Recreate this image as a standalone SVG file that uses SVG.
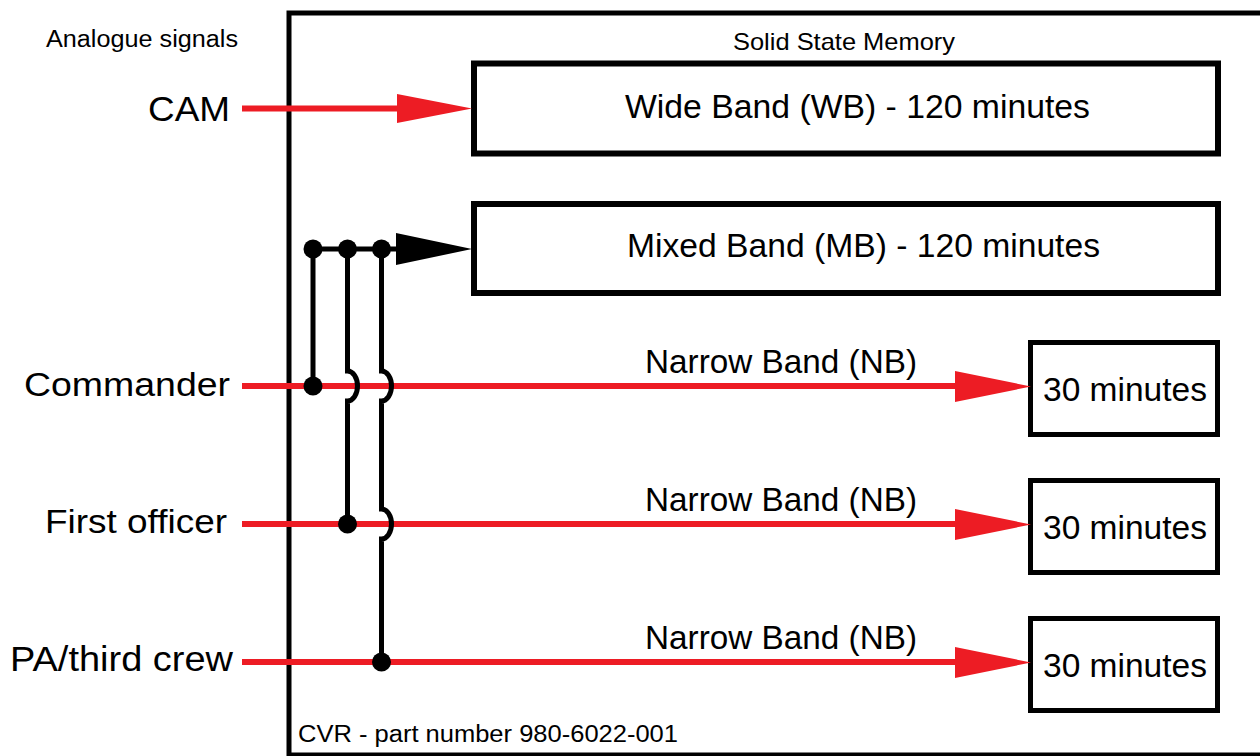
<svg xmlns="http://www.w3.org/2000/svg" width="1260" height="756" viewBox="0 0 1260 756">
<style>
.t{font-family:"Liberation Sans",Arial,sans-serif;fill:#000}
.box{fill:#fff;stroke:#000}
.red{stroke:#ED1C24;stroke-width:6;fill:none}
.blk{stroke:#000;stroke-width:5;fill:none}
.rh{fill:#ED1C24}
.dot{fill:#000}
</style>
<rect width="1260" height="756" fill="#fff"/>
<g id="frame">
<rect x="289" y="13" width="1000" height="742" fill="none" stroke="#000" stroke-width="5"/>
<text class="t" x="733" y="50" font-size="24" textLength="222" lengthAdjust="spacingAndGlyphs">Solid State Memory</text>
<text class="t" x="298" y="742" font-size="23" textLength="380" lengthAdjust="spacingAndGlyphs">CVR - part number 980-6022-001</text>
</g>
<g id="labels">
<text class="t" x="46" y="47" font-size="23" textLength="192" lengthAdjust="spacingAndGlyphs">Analogue signals</text>
<text class="t" x="148" y="121" font-size="35" textLength="82" lengthAdjust="spacingAndGlyphs">CAM</text>
<text class="t" x="24" y="396" font-size="34" textLength="206" lengthAdjust="spacingAndGlyphs">Commander</text>
<text class="t" x="45" y="533" font-size="34" textLength="182" lengthAdjust="spacingAndGlyphs">First officer</text>
<text class="t" x="10" y="671" font-size="35" textLength="223" lengthAdjust="spacingAndGlyphs">PA/third crew</text>
</g>
<g id="wb">
<rect class="box" x="474" y="63.5" width="744" height="90" stroke-width="6"/>
<text class="t" x="625" y="118" font-size="33" textLength="465" lengthAdjust="spacingAndGlyphs">Wide Band (WB) - 120 minutes</text>
</g>
<g id="mb">
<rect class="box" x="474" y="204" width="744" height="89" stroke-width="6"/>
<text class="t" x="627" y="257" font-size="33" textLength="473" lengthAdjust="spacingAndGlyphs">Mixed Band (MB) - 120 minutes</text>
</g>
<g id="nb1">
<rect class="box" x="1030.5" y="342.5" width="187" height="92" stroke-width="5"/>
<text class="t" x="1043" y="401" font-size="33" textLength="164" lengthAdjust="spacingAndGlyphs">30 minutes</text>
</g>
<g id="nb2">
<rect class="box" x="1030.5" y="480.5" width="187" height="92" stroke-width="5"/>
<text class="t" x="1043" y="539" font-size="33" textLength="164" lengthAdjust="spacingAndGlyphs">30 minutes</text>
</g>
<g id="nb3">
<rect class="box" x="1030.5" y="618.5" width="187" height="92" stroke-width="5"/>
<text class="t" x="1043" y="677" font-size="33" textLength="164" lengthAdjust="spacingAndGlyphs">30 minutes</text>
</g>
<g id="connectors">
<line class="red" x1="242" y1="108.5" x2="400" y2="108.5" stroke-width="5"/>
<polygon class="rh" points="397,94 472,108.5 397,123"/>
<line class="red" x1="242" y1="386" x2="958" y2="386"/>
<polygon class="rh" points="955,371 1031,386.5 955,402"/>
<line class="red" x1="242" y1="524" x2="958" y2="524"/>
<polygon class="rh" points="955,509 1031,524.5 955,540"/>
<line class="red" x1="242" y1="662" x2="958" y2="662"/>
<polygon class="rh" points="955,647 1031,662.5 955,678"/>
<text class="t" x="645" y="373" font-size="33" textLength="272" lengthAdjust="spacingAndGlyphs">Narrow Band (NB)</text>
<text class="t" x="645" y="511" font-size="33" textLength="272" lengthAdjust="spacingAndGlyphs">Narrow Band (NB)</text>
<text class="t" x="645" y="649" font-size="33" textLength="272" lengthAdjust="spacingAndGlyphs">Narrow Band (NB)</text>
<line class="blk" x1="313" y1="249" x2="400" y2="249"/>
<polygon fill="#000" points="396,233 472,249 396,265"/>
<line class="blk" x1="313" y1="249" x2="313" y2="386"/>
<path class="blk" d="M347.5,249 V371 A10 15 0 0 1 347.5,401 V524"/>
<path class="blk" d="M381.5,249 V371 A10 15 0 0 1 381.5,401 V509 A10 15 0 0 1 381.5,539 V662"/>
<circle class="dot" cx="313" cy="249" r="9.5"/>
<circle class="dot" cx="347.5" cy="249" r="9.5"/>
<circle class="dot" cx="381.5" cy="249" r="9.5"/>
<circle class="dot" cx="313" cy="386" r="9.5"/>
<circle class="dot" cx="347.5" cy="524" r="9.5"/>
<circle class="dot" cx="381.5" cy="662" r="9.5"/>
</g>
</svg>
